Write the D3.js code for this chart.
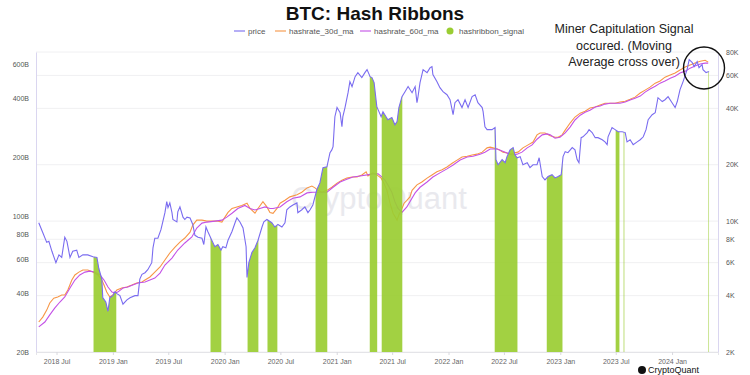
<!DOCTYPE html>
<html>
<head>
<meta charset="utf-8">
<script src="https://cdn.jsdelivr.net/npm/d3@7"></script>
<style>
body { margin: 0; background: #fff; }
svg { display: block; }
text { font-family: Arial, "Liberation Sans", sans-serif; }
</style>
</head>
<body>
<svg width="750" height="375"></svg>
<script>
// BTC price (USD)
var price = [
["2018-05-04",9800],["2018-05-17",8700],["2018-05-30",7700],["2018-06-06",7800],["2018-06-16",6900],
["2018-06-29",6000],["2018-07-09",6600],["2018-07-18",6400],["2018-07-28",8200],["2018-08-04",7800],
["2018-08-14",6400],["2018-08-23",6900],["2018-09-05",7000],["2018-09-12",6400],["2018-09-25",6600],
["2018-10-11",6600],["2018-10-28",6450],["2018-11-10",6400],["2018-11-16",5600],["2018-11-26",4900],
["2018-11-29",3900],["2018-12-09",3700],["2018-12-16",3300],["2018-12-22",3900],["2019-01-01",4000],
["2019-01-08",4200],["2019-01-14",4100],["2019-01-24",4000],["2019-02-03",3600],["2019-02-16",3800],
["2019-02-26",3900],["2019-03-14",4000],["2019-03-24",4000],["2019-03-30",4900],["2019-04-06",5200],
["2019-04-16",5300],["2019-04-25",5500],["2019-05-08",6000],["2019-05-12",7200],["2019-05-18",8100],
["2019-05-28",8100],["2019-06-07",9000],["2019-06-13",9900],["2019-06-20",11100],["2019-06-26",12700],
["2019-06-30",11800],["2019-07-06",12500],["2019-07-13",11100],["2019-07-16",10200],["2019-07-29",9900],
["2019-08-01",11200],["2019-08-08",11900],["2019-08-18",10500],["2019-08-24",10200],["2019-08-31",10500],
["2019-09-10",10400],["2019-09-19",9600],["2019-09-26",8400],["2019-10-06",8200],["2019-10-19",8100],
["2019-10-25",7500],["2019-11-01",9300],["2019-11-07",8800],["2019-11-20",7900],["2019-11-30",7300],
["2019-12-10",7500],["2019-12-20",7000],["2019-12-26",7300],["2020-01-05",7200],["2020-01-12",7900],
["2020-01-25",8800],["2020-02-04",9800],["2020-02-10",10400],["2020-02-20",9900],["2020-03-01",9200],
["2020-03-11",7300],["2020-03-14",5000],["2020-03-20",6000],["2020-03-30",6800],["2020-04-09",7200],
["2020-04-19",7900],["2020-05-02",9300],["2020-05-08",9900],["2020-05-18",10200],["2020-06-03",9800],
["2020-06-13",9300],["2020-06-23",9600],["2020-07-06",9300],["2020-07-16",9800],["2020-07-22",11500],
["2020-08-01",11900],["2020-08-11",12200],["2020-08-24",12500],["2020-08-27",11100],["2020-09-09",11500],
["2020-09-19",11900],["2020-09-29",11100],["2020-10-06",11500],["2020-10-15",12200],["2020-10-28",14700],
["2020-11-07",16000],["2020-11-17",19300],["2020-11-30",19500],["2020-12-10",23200],["2020-12-16",24000],
["2020-12-20",25000],["2020-12-26",36100],["2021-01-02",40400],["2021-01-12",37900],["2021-01-18",31900],
["2021-01-21",36100],["2021-01-28",40400],["2021-02-07",48500],["2021-02-13",55600],["2021-02-20",52300],
["2021-03-02",59100],["2021-03-11",62100],["2021-03-24",58400],["2021-04-03",62100],["2021-04-10",64400],
["2021-04-20",59100],["2021-04-26",58400],["2021-05-03",54900],["2021-05-12",40800],["2021-05-16",39400],
["2021-05-26",36100],["2021-06-01",38400],["2021-06-11",36100],["2021-06-17",34800],["2021-06-30",35700],
["2021-07-10",32700],["2021-07-17",34000],["2021-07-23",40400],["2021-08-02",46200],["2021-08-12",49100],
["2021-08-22",52300],["2021-09-04",48500],["2021-09-14",52300],["2021-09-20",42900],["2021-09-23",45600],
["2021-09-30",54900],["2021-10-10",64400],["2021-10-23",62100],["2021-11-02",66000],["2021-11-08",66900],
["2021-11-11",60600],["2021-11-24",55600],["2021-12-04",51600],["2021-12-14",49100],["2021-12-27",47300],
["2022-01-06",44500],["2022-01-16",37000],["2022-01-22",42900],["2022-02-01",44500],["2022-02-14",40400],
["2022-02-24",44500],["2022-03-06",40400],["2022-03-19",46200],["2022-03-29",47300],["2022-04-07",42900],
["2022-04-21",40400],["2022-04-24",38400],["2022-04-30",31900],["2022-05-07",30800],["2022-05-23",30800],
["2022-06-02",31600],["2022-06-05",21300],["2022-06-12",20000],["2022-06-25",21300],["2022-07-05",20500],
["2022-07-11",22100],["2022-07-21",24000],["2022-07-31",24700],["2022-08-06",22600],["2022-08-13",21800],
["2022-08-23",22100],["2022-09-01",20000],["2022-09-15",20500],["2022-09-24",19300],["2022-10-04",20000],
["2022-10-17",20000],["2022-10-24",21800],["2022-11-03",17300],["2022-11-12",16600],["2022-11-22",17300],
["2022-12-05",17700],["2022-12-15",17000],["2022-12-25",17300],["2023-01-04",17700],["2023-01-10",22100],
["2023-01-17",23500],["2023-01-26",23200],["2023-02-09",24700],["2023-02-18",24000],["2023-02-25",21300],
["2023-03-03",20500],["2023-03-10",27900],["2023-03-16",28200],["2023-03-30",29700],["2023-04-05",30800],
["2023-04-15",29700],["2023-04-25",27900],["2023-05-04",27900],["2023-05-18",27200],["2023-05-27",26500],
["2023-06-03",25600],["2023-06-06",28200],["2023-06-19",31600],["2023-06-29",30800],["2023-07-09",30000],
["2023-07-22",30000],["2023-08-01",29700],["2023-08-07",26500],["2023-08-17",27200],["2023-08-27",25600],
["2023-09-09",26500],["2023-09-19",27200],["2023-09-29",28200],["2023-10-08",30800],["2023-10-15",34800],
["2023-10-28",37000],["2023-11-07",37900],["2023-11-16",45600],["2023-11-30",43500],["2023-12-09",44500],
["2023-12-19",46200],["2024-01-01",42900],["2024-01-11",40400],["2024-01-18",43500],["2024-01-27",50400],
["2024-02-06",55600],["2024-02-19",64400],["2024-02-26",72800],["2024-03-07",70200],["2024-03-13",66900],
["2024-03-23",71100],["2024-03-29",66000],["2024-04-08",68500],["2024-04-11",64400],["2024-04-21",62100],
["2024-04-28",62800],["2024-05-01",62800]
];

// hashrate 30 day moving average (B)
var hashrate30 = [
["2018-05-04",28.5],["2018-05-17",30.2],["2018-05-30",32.8],["2018-06-09",35.7],["2018-06-22",37.8],
["2018-07-05",38.3],["2018-07-18",39.2],["2018-07-28",39.2],["2018-08-07",41.6],["2018-08-20",46.8],
["2018-08-30",49.7],["2018-09-12",51.4],["2018-09-25",52.7],["2018-10-11",52.7],["2018-10-28",51.4],
["2018-11-13",49.7],["2018-11-26",46.8],["2018-12-03",44.1],["2018-12-12",40.6],["2018-12-22",38.3],
["2019-01-01",39.2],["2019-01-14",41.6],["2019-01-30",42.6],["2019-02-16",43.1],["2019-03-04",44.1],
["2019-03-20",45.2],["2019-04-06",45.7],["2019-04-16",46.8],["2019-05-02",48.5],["2019-05-18",51.4],
["2019-06-04",54.6],["2019-06-20",59.3],["2019-07-06",64.4],["2019-07-23",69.1],["2019-08-08",73.3],
["2019-08-24",76.9],["2019-09-10",82.4],["2019-09-19",89.6],["2019-10-02",95],["2019-10-19",95],
["2019-11-04",93.9],["2019-11-20",93.9],["2019-12-07",93.9],["2019-12-23",92.8],["2020-01-02",98.4],
["2020-01-12",104],["2020-01-25",109],["2020-02-10",111],["2020-02-26",113],["2020-03-14",116],
["2020-03-24",109],["2020-04-09",103],["2020-04-19",109],["2020-05-05",118],["2020-05-18",111],
["2020-05-28",104],["2020-06-07",103],["2020-06-20",109],["2020-06-30",116],["2020-07-16",120],
["2020-08-01",125],["2020-08-24",128],["2020-09-09",132],["2020-09-26",139],["2020-10-12",142],
["2020-10-22",139],["2020-11-01",135],["2020-11-14",132],["2020-11-30",135],["2020-12-16",140],
["2021-01-02",147],["2021-01-18",152],["2021-02-03",156],["2021-02-20",158],["2021-03-08",158],
["2021-03-24",162],["2021-04-07",168],["2021-04-13",160],["2021-04-29",166],["2021-05-12",162],
["2021-05-26",156],["2021-06-04",147],["2021-06-14",135],["2021-06-24",116],["2021-07-04",103],
["2021-07-17",95],["2021-07-23",101],["2021-08-02",109],["2021-08-09",116],["2021-08-18",120],
["2021-08-28",125],["2021-09-04",135],["2021-09-20",144],["2021-10-06",149],["2021-10-23",156],
["2021-11-08",162],["2021-11-24",168],["2021-12-11",172],["2021-12-27",178],["2022-01-13",186],
["2022-01-29",193],["2022-02-14",200],["2022-03-03",202],["2022-03-19",205],["2022-04-04",207],
["2022-04-21",212],["2022-05-07",223],["2022-05-17",225],["2022-05-26",223],["2022-06-09",220],
["2022-06-18",217],["2022-06-28",212],["2022-07-11",210],["2022-07-21",207],["2022-07-31",210],
["2022-08-16",212],["2022-09-01",223],["2022-09-18",231],["2022-10-04",239],["2022-10-17",260],
["2022-10-27",266],["2022-11-12",266],["2022-11-29",257],["2022-12-15",253],["2022-12-25",253],
["2023-01-07",260],["2023-01-17",275],["2023-02-02",299],["2023-02-18",321],["2023-03-07",336],
["2023-03-23",344],["2023-04-08",357],["2023-04-25",361],["2023-05-11",370],["2023-05-27",378],
["2023-06-13",378],["2023-06-29",378],["2023-07-15",383],["2023-08-01",387],["2023-08-17",396],
["2023-09-02",406],["2023-09-19",426],["2023-10-05",441],["2023-10-21",457],["2023-11-07",479],
["2023-11-23",491],["2023-12-09",514],["2023-12-26",527],["2024-01-11",540],["2024-01-27",559],
["2024-02-13",579],["2024-02-29",593],["2024-03-16",607],["2024-04-02",621],["2024-04-18",628],
["2024-04-28",614]
];

// hashrate 60 day moving average (B)
var hashrate60 = [
["2018-05-04",26.9],["2018-05-24",28.5],["2018-06-09",31.0],["2018-06-25",33.6],["2018-07-12",36.1],
["2018-07-28",38.3],["2018-08-14",42.6],["2018-08-30",46.8],["2018-09-15",49.7],["2018-10-02",51.4],
["2018-10-18",52.0],["2018-11-03",51.4],["2018-11-20",49.7],["2018-12-03",46.8],["2018-12-16",43.1],
["2018-12-29",40.6],["2019-01-08",40.2],["2019-01-17",40.6],["2019-02-03",42.6],["2019-02-19",43.1],
["2019-03-07",44.1],["2019-03-24",45.2],["2019-04-16",45.7],["2019-05-02",46.8],["2019-05-18",47.9],
["2019-06-04",50.8],["2019-06-20",55.9],["2019-07-13",60.7],["2019-08-01",66.7],["2019-08-24",72.5],
["2019-09-16",77.8],["2019-10-02",86.5],["2019-10-19",91.7],["2019-11-04",92.8],["2019-11-30",93.9],
["2019-12-23",95],["2020-01-08",98.4],["2020-01-25",103],["2020-02-13",109],["2020-03-07",113],
["2020-03-24",109],["2020-04-09",107],["2020-04-25",109],["2020-05-12",111],["2020-05-28",109],
["2020-06-07",109],["2020-06-30",111],["2020-07-22",118],["2020-08-11",123],["2020-09-03",125],
["2020-09-26",131],["2020-10-15",132],["2020-11-07",132],["2020-11-30",132],["2020-12-20",140],
["2021-01-12",149],["2021-02-03",154],["2021-02-23",158],["2021-03-18",160],["2021-04-10",162],
["2021-04-29",164],["2021-05-16",164],["2021-05-29",158],["2021-06-08",152],["2021-06-17",144],
["2021-06-30",132],["2021-07-10",118],["2021-07-20",109],["2021-08-02",104],["2021-08-18",111],
["2021-08-28",118],["2021-09-14",131],["2021-09-30",140],["2021-10-23",149],["2021-11-11",158],
["2021-12-04",166],["2021-12-27",174],["2022-01-16",182],["2022-02-08",193],["2022-03-03",200],
["2022-03-22",202],["2022-04-14",207],["2022-04-30",212],["2022-05-17",220],["2022-06-09",220],
["2022-06-25",215],["2022-07-11",210],["2022-07-28",205],["2022-08-13",207],["2022-08-29",212],
["2022-09-15",223],["2022-10-01",231],["2022-10-17",247],["2022-11-03",260],["2022-11-19",263],
["2022-11-29",260],["2022-12-15",250],["2022-12-31",253],["2023-01-17",266],["2023-02-02",285],
["2023-02-18",310],["2023-03-07",328],["2023-03-23",340],["2023-04-08",348],["2023-04-25",361],
["2023-05-11",366],["2023-05-27",374],["2023-06-13",378],["2023-06-29",378],["2023-07-15",378],
["2023-08-01",383],["2023-08-17",392],["2023-09-02",401],["2023-09-19",411],["2023-10-05",431],
["2023-10-21",447],["2023-11-07",462],["2023-11-23",479],["2023-12-09",491],["2023-12-26",508],
["2024-01-11",520],["2024-01-27",540],["2024-02-13",552],["2024-02-29",572],["2024-03-16",586],
["2024-04-02",600],["2024-04-18",607],["2024-04-28",607]
];

// hash ribbon signal periods (start, end)
var signalPeriods = [
["2018-10-31","2019-01-11"],["2019-11-17","2019-12-20"],["2020-03-17","2020-04-19"],
["2020-05-21","2020-06-20"],["2020-10-25","2020-11-30"],["2021-04-20","2021-05-12"],
["2021-05-29","2021-08-02"],["2022-06-02","2022-08-13"],["2022-11-19","2023-01-07"],
["2023-07-02","2023-07-12"],["2023-07-28","2023-07-28"],["2024-04-30","2024-04-30"]
];

var leftTicks = [20, 40, 60, 80, 100, 200, 400, 600];
var rightTicks = [2000, 4000, 6000, 8000, 10000, 20000, 40000, 60000, 80000];
var xDomain = ["2018-04-25", "2024-05-30"];

var legendItems = ["price", "hashrate_30d_ma", "hashrate_60d_ma", "hashribbon_signal"];
var colors = {price: "#7a6cf0", ma30: "#f79646", ma60: "#c452e6", signal: "#9acd32"};
/////////////////////////////////////

var parse = d3.timeParse("%Y-%m-%d");
var svg = d3.select("svg"),
	margin = {top: 52, right: 32, bottom: 23, left: 36},
	width = +svg.attr("width") - margin.left - margin.right,
	height = +svg.attr("height") - margin.top - margin.bottom,
	g = svg.append("g").attr("transform", "translate(" + margin.left + "," + margin.top + ")");

function rows(arr) {
	return arr.map(function (d) { return {date: parse(d[0]), value: d[1]}; });
}
var priceData = rows(price), ma30Data = rows(hashrate30), ma60Data = rows(hashrate60);

var x = d3.scaleTime().domain(xDomain.map(parse)).range([0, width]);
var yL = d3.scaleLog().domain([20, 692]).range([height, 0]);
var yR = d3.scaleLog().domain([2000, 80000]).range([height, 0]);

// grid
g.append("g").selectAll("line")
	.data(rightTicks).enter().append("line")
	.attr("x1", 0).attr("x2", width)
	.attr("y1", function (d) { return yR(d); })
	.attr("y2", function (d) { return yR(d); })
	.attr("stroke", "#f0f0f2");

// watermark
g.append("text")
	.attr("x", width / 2 + 2).attr("y", 157)
	.attr("text-anchor", "middle")
	.attr("font-size", "31px")
	.attr("fill", "#dcdce4").attr("opacity", 0.6)
	.text("CryptoQuant");

// bottom axis
var xAxis = g.append("g")
	.attr("transform", "translate(0," + height + ")")
	.call(d3.axisBottom(x).ticks(d3.timeMonth.every(6)).tickFormat(d3.timeFormat("%Y %b")).tickSize(3).tickPadding(4));
xAxis.select(".domain").attr("stroke", "#e4e4e8");
xAxis.selectAll(".tick line").attr("stroke", "#d8d8de");
xAxis.selectAll("text").attr("fill", "#666").attr("font-size", "7px");

// left axis
var lAxis = g.append("g")
	.call(d3.axisLeft(yL).tickValues(leftTicks).tickFormat(function (d) { return d + "B"; }).tickSize(0).tickPadding(7));
lAxis.select(".domain").attr("stroke", "#dad6f0");
lAxis.selectAll("text").attr("fill", "#555").attr("font-size", "7px");

// right axis
var rAxis = g.append("g")
	.attr("transform", "translate(" + width + ",0)")
	.call(d3.axisRight(yR).tickValues(rightTicks).tickFormat(function (d) { return (d / 1000) + "K"; }).tickSize(0).tickPadding(8));
rAxis.select(".domain").attr("stroke", "#dad6f0");
rAxis.selectAll("text").attr("fill", "#555").attr("font-size", "7px");

// moving averages
var lineL = d3.line().x(function (d) { return x(d.date); }).y(function (d) { return yL(d.value); });
g.append("path").datum(ma30Data).attr("d", lineL)
	.attr("fill", "none").attr("stroke", colors.ma30).attr("stroke-width", 1.1);
g.append("path").datum(ma60Data).attr("d", lineL)
	.attr("fill", "none").attr("stroke", colors.ma60).attr("stroke-width", 1.1);

// signal bars: area under price, clipped to the signal periods
var clip = svg.append("defs").append("clipPath").attr("id", "sig");
clip.selectAll("rect")
	.data(signalPeriods).enter().append("rect")
	.attr("x", function (d) { return x(parse(d[0])) - 0.35; })
	.attr("y", 0)
	.attr("width", function (d) { return x(parse(d[1])) - x(parse(d[0])) + 0.7; })
	.attr("height", height);
var area = d3.area()
	.x(function (d) { return x(d.date); })
	.y0(height)
	.y1(function (d) { return yR(d.value); });
g.append("path").datum(priceData).attr("d", area)
	.attr("clip-path", "url(#sig)")
	.attr("fill", colors.signal).attr("opacity", 0.92);

// price
var lineR = d3.line().x(function (d) { return x(d.date); }).y(function (d) { return yR(d.value); });
g.append("path").datum(priceData).attr("d", lineR)
	.attr("fill", "none").attr("stroke", colors.price).attr("stroke-width", 1.1);

// title
svg.append("text")
	.attr("x", 375).attr("y", 20)
	.attr("text-anchor", "middle")
	.attr("font-size", "19px").attr("font-weight", "bold")
	.attr("fill", "#111")
	.text("BTC: Hash Ribbons");

// legend
var lg = svg.append("g").attr("font-size", "8px").attr("fill", "#555");
var legendX = [234, 275, 360, 446];
var legendColors = [colors.price, colors.ma30, colors.ma60, colors.signal];
legendItems.forEach(function (name, i) {
	if (i < 3) {
		lg.append("line")
			.attr("x1", legendX[i]).attr("x2", legendX[i] + 11)
			.attr("y1", 31).attr("y2", 31)
			.attr("stroke", legendColors[i]).attr("stroke-width", 2).attr("opacity", 0.55);
		lg.append("text").attr("x", legendX[i] + 14).attr("y", 34).text(name);
	} else {
		lg.append("circle").attr("cx", legendX[i] + 4).attr("cy", 31).attr("r", 3.5).attr("fill", legendColors[i]);
		lg.append("text").attr("x", legendX[i] + 13).attr("y", 34).text(name);
	}
});

// annotation
var note = svg.append("text")
	.attr("text-anchor", "middle")
	.attr("font-family", "'Open Sans', sans-serif")
	.attr("font-size", "12.5px").attr("fill", "#222");
["Miner Capitulation Signal", "occured. (Moving", "Average cross over)"].forEach(function (t, i) {
	note.append("tspan").attr("x", 624).attr("y", 33 + i * 16.5).text(t);
});
svg.append("ellipse")
	.attr("cx", 704).attr("cy", 68).attr("rx", 20.5).attr("ry", 21)
	.attr("fill", "none").attr("stroke", "#111").attr("stroke-width", 1.4);

// logo
svg.append("circle").attr("cx", 642).attr("cy", 370).attr("r", 4).attr("fill", "#111");
svg.append("text")
	.attr("x", 648).attr("y", 373)
	.attr("font-size", "9px").attr("fill", "#111")
	.text("CryptoQuant");
</script>
</body>
</html>
